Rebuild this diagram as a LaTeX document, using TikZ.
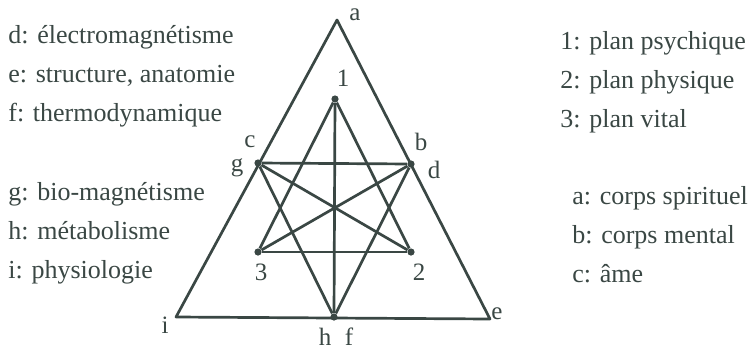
\documentclass[tikz,border=0pt]{standalone}
\usepackage{fontspec}
\setmainfont{Liberation Serif}
\usepackage{xcolor}
\usepackage{tikz}
\usetikzlibrary{positioning}
\definecolor{ink}{HTML}{3A4744}
\tikzset{
  edge/.style={draw=ink, line width=1.35pt, line join=round},
  vtx/.style={circle, fill=ink, inner sep=0pt, minimum size=3.6pt},
  tag/.style={font=\fontsize{12.5}{15}\selectfont, text=ink, inner sep=0pt},
  legend/.style={font=\fontsize{13}{16}\selectfont, text=ink, anchor=base west, inner sep=0pt}
}
\begin{document}
\begin{tikzpicture}[x=0.5pt, y=-0.5pt]
  \useasboundingbox (0,0) rectangle (750,349);
  % outer triangle
  \coordinate (a) at (337,20);
  \coordinate (i) at (176,317);
  \coordinate (e) at (490,319);
  \draw[edge] (a) -- (i) -- (e) -- cycle;
  % star points
  \node[vtx] (p1) at (335,99) {};
  \node[vtx] (p3) at (258,252) {};
  \node[vtx] (p2) at (411,252) {};
  \node[vtx] (pg) at (258,163) {};
  \node[vtx] (pd) at (411,164) {};
  \node[vtx] (ph) at (334,317) {};
  \draw[edge] (p1) -- (p3); \draw[edge] (p1) -- (p2); \draw[edge] (p3) -- (p2);
  \draw[edge] (pg) -- (pd); \draw[edge] (pg) -- (ph); \draw[edge] (pd) -- (ph);
  \draw[edge] (p1) -- (ph);
  \draw[edge] (pg) -- (p2); \draw[edge] (pd) -- (p3);
  % letters
  \node[tag] (la) at (355,15) {a};
  \node[tag] (l1) at (343,78) {1};
  \node[tag] (lc) at (250,142) {c};
  \node[tag] (lg) at (237,168) {g};
  \node[tag] (lb) at (421,142) {b};
  \node[tag] (ld) at (434,170) {d};
  \node[tag] (l3) at (261,272) {3};
  \node[tag] (l2) at (419,272) {2};
  \node[tag] (le) at (497,314) {e};
  \node[tag] (li) at (165,325) {i};
  \node[tag] (lh) at (325,337) {h};
  \node[tag] (lf) at (349,337) {f};
  % legends
  \node[legend] (kd) at (8,43) {d: électromagnétisme};
  \node[legend] (ke) at (8,82) {e: structure, anatomie};
  \node[legend] (kf) at (8,121) {f: thermodynamique};
  \node[legend] (kg) at (8,200) {g: bio-magnétisme};
  \node[legend] (kh) at (8,239) {h: métabolisme};
  \node[legend] (ki) at (8,278) {i: physiologie};
  \node[legend] (k1) at (560,49) {1: plan psychique};
  \node[legend] (k2) at (560,88) {2: plan physique};
  \node[legend] (k3) at (560,127) {3: plan vital};
  \node[legend] (ka) at (572,204) {a: corps spirituel};
  \node[legend] (kb) at (572,243) {b: corps mental};
  \node[legend] (kc) at (572,282) {c: âme};
\end{tikzpicture}
\end{document}
